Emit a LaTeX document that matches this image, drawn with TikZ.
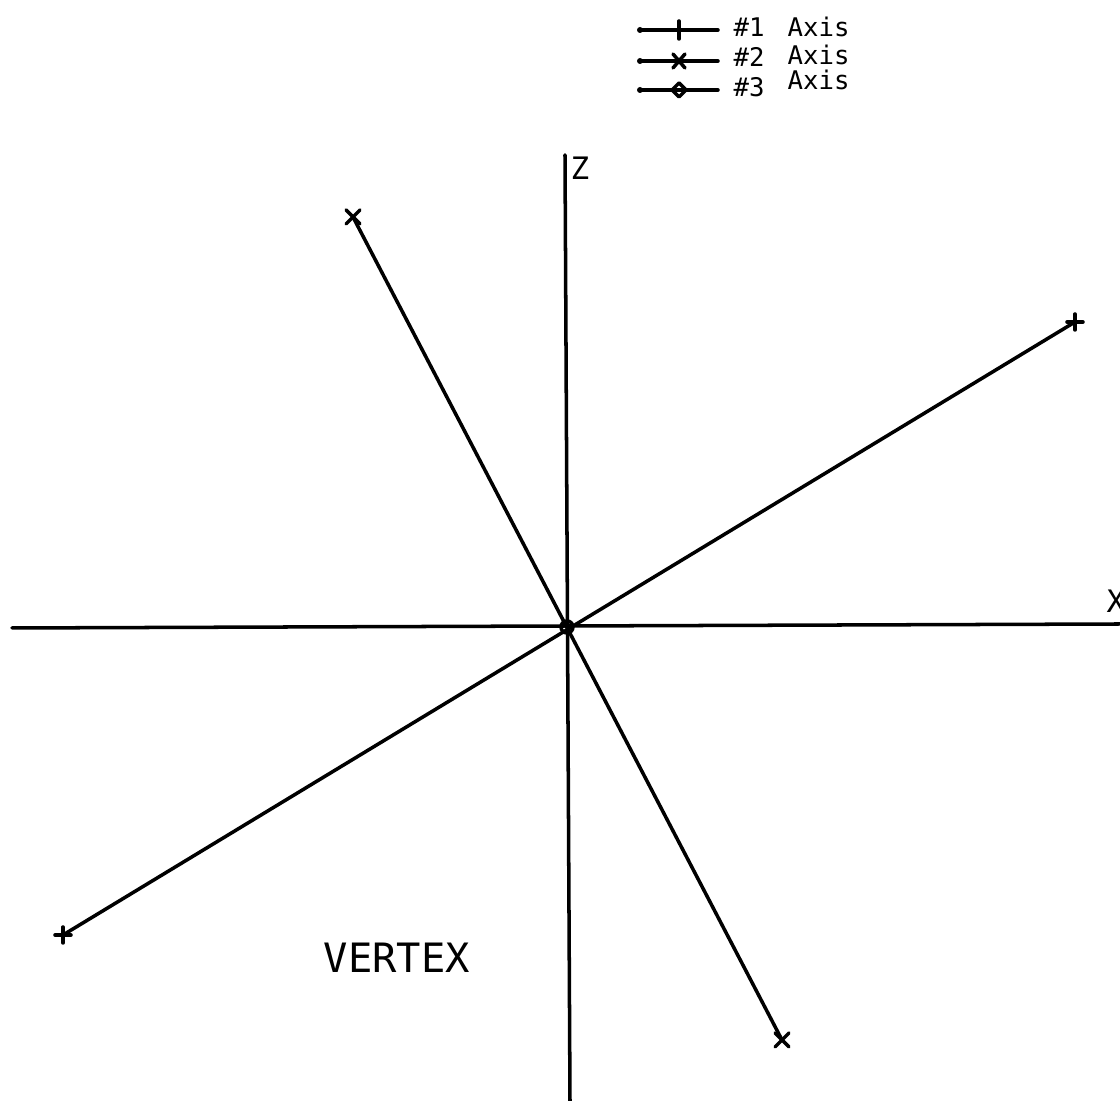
\documentclass[tikz,border=0pt]{standalone}
\usepackage{fontspec}
\setmainfont{DejaVu Sans Mono}
\usetikzlibrary{calc}

\begin{document}
\begin{tikzpicture}[x=0.01cm,y=-0.01cm,line cap=round,line join=round]

% ---------- styles ----------
\tikzset{
  axisline/.style={line width=1pt},
  legline/.style={line width=1pt},
  label/.style={inner sep=0pt, anchor=base west},
  legfont/.style={font=\fontsize{7.3}{8}\selectfont}
}

\useasboundingbox (0,0) rectangle (1120,1101);

% ---------- origin ----------
\coordinate (O) at (567,627);

% ---------- X and Z axes ----------
\coordinate (Xl) at (12,628);
\coordinate (Xr) at (1120,624);
\coordinate (Zt) at (565,155);
\coordinate (Zb) at (570,1101);
\draw[axisline] (Xl) -- (Xr);
\draw[axisline] (Zt) -- (Zb);
\node[label, font=\fontsize{8.8}{9}\selectfont] (xlab) at (1106,613) {X};
\node[label, font=\fontsize{8.8}{9}\selectfont] (zlab) at (570,180) {Z};

% ---------- #1 axis (+) ----------
\coordinate (A1a) at (63,935);
\coordinate (A1b) at (1075,322);
\draw[axisline] (A1a) -- (A1b);
\draw[axisline] ($(A1a)+(-8,0)$) -- ($(A1a)+(8,0)$)
  ($(A1a)+(0,-8)$) -- ($(A1a)+(0,8)$);
\draw[axisline] ($(A1b)+(-8,0)$) -- ($(A1b)+(8,0)$)
  ($(A1b)+(0,-8)$) -- ($(A1b)+(0,8)$);

% ---------- #2 axis (x) ----------
\coordinate (A2a) at (353,217);
\coordinate (A2b) at (782,1040);
\draw[axisline] (A2a) -- (A2b);
\draw[axisline] ($(A2a)+(-7,-7)$) -- ($(A2a)+(7,7)$)
  ($(A2a)+(-7,7)$) -- ($(A2a)+(7,-7)$);
\draw[axisline] ($(A2b)+(-7,-7)$) -- ($(A2b)+(7,7)$)
  ($(A2b)+(-7,7)$) -- ($(A2b)+(7,-7)$);

% ---------- #3 axis (point at origin) ----------
\draw[axisline] (O) circle (6);

% ---------- label ----------
\node[label, font=\fontsize{11.5}{12}\selectfont] (vertex) at (323,973) {VERTEX};

% ---------- legend ----------
% #1
\coordinate (L1a) at (640,30);
\coordinate (L1b) at (718,30);
\draw[legline] (L1a) -- (L1b);
\fill (L1a) circle (3);
\draw[legline] (679,21) -- (679,39);
\node[label, legfont] (leg1num) at (733,37) {\#1};
\node[label, legfont] (leg1txt) at (787,37) {Axis};

% #2
\coordinate (L2a) at (640,61);
\coordinate (L2b) at (718,61);
\draw[legline] (L2a) -- (L2b);
\fill (L2a) circle (3);
\draw[legline] (673,54) -- (685,68) (673,68) -- (685,54);
\node[label, legfont] (leg2num) at (733,67) {\#2};
\node[label, legfont] (leg2txt) at (787,65) {Axis};

% #3
\coordinate (L3a) at (640,90);
\coordinate (L3b) at (718,90);
\draw[legline] (L3a) -- (L3b);
\fill (L3a) circle (3);
\draw[legline] (679,83) -- (686,90) -- (679,97) -- (672,90) -- cycle;
\node[label, legfont] (leg3num) at (733,97) {\#3};
\node[label, legfont] (leg3txt) at (787,90) {Axis};

\end{tikzpicture}
\end{document}
